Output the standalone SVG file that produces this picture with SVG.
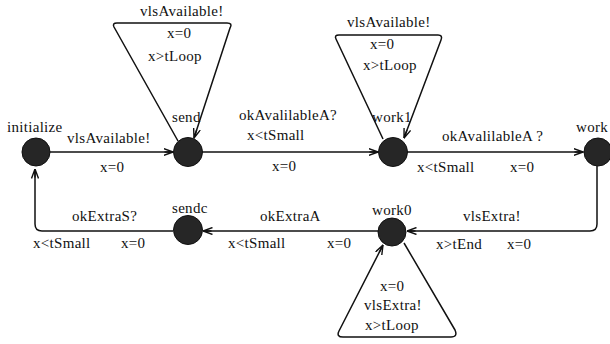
<svg xmlns="http://www.w3.org/2000/svg" width="610" height="344" viewBox="0 0 610 344">
<style>
text{font-family:"Liberation Serif","Times New Roman",serif;font-size:15px;letter-spacing:0.3px;fill:#111}
.e{fill:none;stroke:#111;stroke-width:1.5;stroke-linejoin:round}
.n{fill:#262626;stroke:#111;stroke-width:1}
</style>
<defs>
<marker id="a" viewBox="0 0 10 8" refX="9.5" refY="4" markerWidth="10" markerHeight="8" markerUnits="userSpaceOnUse" orient="auto">
<path d="M0,0.5 L9.5,4 L0,7.5 M1,4 L9.5,4" fill="none" stroke="#111" stroke-width="1.4"/>
</marker>
</defs>
<rect width="610" height="344" fill="#fff"/>
<g id="connectors">
<path class="e" d="M50,152 L173,152" marker-end="url(#a)"/>
<path class="e" d="M202,152 L378,152" marker-end="url(#a)"/>
<path class="e" d="M407,152 L583,152" marker-end="url(#a)"/>
<path class="e" d="M597,166 L597,224 Q597,231 590,231 L407,231" marker-end="url(#a)"/>
<path class="e" d="M378,231 L203,231" marker-end="url(#a)"/>
<path class="e" d="M173,231 L42,231 Q35,231 35,224 L35,169" marker-end="url(#a)"/>
<path class="e" d="M178,141 L114,27 Q112,23 117,23 L227,23 Q233,23 230,28 L194,138" marker-end="url(#a)"/>
<path class="e" d="M383,139 L336,39 Q334,35 339,35 L438,35 Q443,35 441,40 L404,138" marker-end="url(#a)"/>
<path class="e" d="M404,243 L455,330 Q458,337 451,337 L343,337 Q336,337 339,331 L383,245" marker-end="url(#a)"/>
</g>
<g id="initialize"><circle class="n" cx="36" cy="152" r="14"/><text x="7" y="132">initialize</text></g>
<g id="send"><circle class="n" cx="188" cy="152" r="14.5"/><text x="172" y="122">send</text></g>
<g id="work1"><circle class="n" cx="393" cy="152" r="14.5"/><text x="372" y="122">work1</text></g>
<g id="work"><circle class="n" cx="598" cy="152" r="14"/><text x="576" y="132">work</text></g>
<g id="work0"><circle class="n" cx="392" cy="232" r="14"/><text x="372" y="215">work0</text></g>
<g id="sendc"><circle class="n" cx="188" cy="230" r="14.5"/><text x="172" y="213">sendc</text></g>
<g id="labels">
<text x="140" y="16">vlsAvailable!</text>
<text x="167" y="38">x=0</text>
<text x="148" y="61">x&gt;tLoop</text>
<text x="67" y="143">vlsAvailable!</text>
<text x="100" y="172">x=0</text>
<text x="239" y="120">okAvalilableA?</text>
<text x="247" y="140">x&lt;tSmall</text>
<text x="272" y="171">x=0</text>
<text x="347" y="27">vlsAvailable!</text>
<text x="370" y="49">x=0</text>
<text x="363" y="70">x&gt;tLoop</text>
<text x="442" y="141">okAvalilableA ?</text>
<text x="417" y="172">x&lt;tSmall</text>
<text x="510" y="172">x=0</text>
<text x="463" y="221">vlsExtra!</text>
<text x="436" y="249">x&gt;tEnd</text>
<text x="507" y="249">x=0</text>
<text x="260" y="221">okExtraA</text>
<text x="228" y="248">x&lt;tSmall</text>
<text x="327" y="248">x=0</text>
<text x="72" y="221">okExtraS?</text>
<text x="33" y="248">x&lt;tSmall</text>
<text x="121" y="248">x=0</text>
<text x="380" y="291">x=0</text>
<text x="364" y="310">vlsExtra!</text>
<text x="365" y="330">x&gt;tLoop</text>
</g>
</svg>
